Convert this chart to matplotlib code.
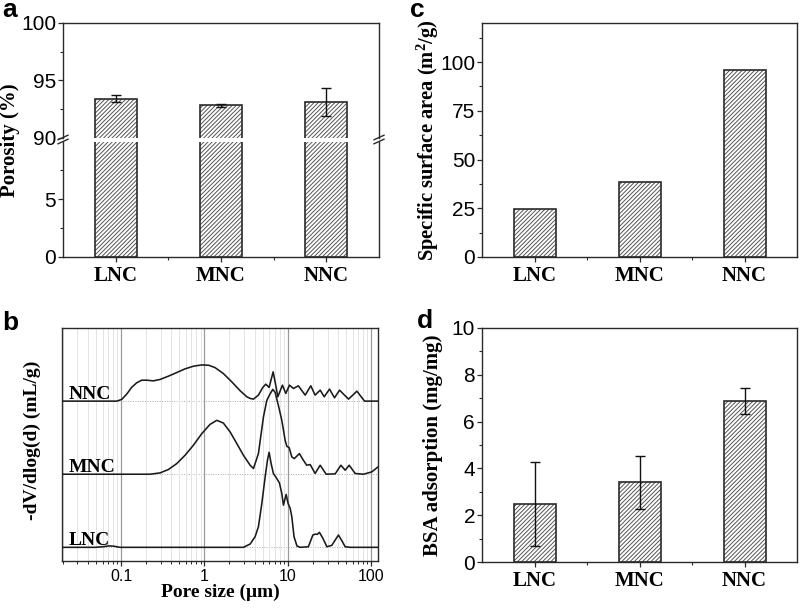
import matplotlib
matplotlib.use('Agg')
import matplotlib.pyplot as plt
from matplotlib.lines import Line2D
from matplotlib.ticker import FixedLocator, NullFormatter, FixedFormatter, LogLocator

# ---------------- data ----------------
categories = ['LNC', 'MNC', 'NNC']
porosity = [93.4, 92.8, 93.1]
porosity_err = [0.3, 0.1, 1.2]
surface_area = [24.6, 38.3, 96.0]
bsa = [2.47, 3.40, 6.87]
bsa_err = [1.80, 1.13, 0.55]

# pore size distribution (d in um, height in offset units)
nnc_d = [0.0196, 0.089, 0.102, 0.117, 0.134, 0.154, 0.177, 0.204, 0.244, 0.294, 0.370,
         0.467, 0.586, 0.738, 0.931, 1.12, 1.34, 1.69, 2.13, 2.69, 3.23, 3.54, 3.88,
         4.45, 5.02, 5.46, 5.98, 6.68, 7.12, 7.60, 8.64, 9.48, 10.5, 11.7, 13.4, 16.2,
         18.9, 21.3, 24.5, 27.4, 31.7, 36.4, 41.8, 53.6, 67.6, 83.4, 121]
nnc_h = [0, 0, 0.023, 0.095, 0.187, 0.25, 0.286, 0.286, 0.277, 0.296, 0.341,
         0.391, 0.441, 0.477, 0.495, 0.491, 0.459, 0.377, 0.264, 0.141, 0.059, 0.037, 0.027,
         0.082, 0.187, 0.232, 0.187, 0.40, 0.241, 0.059, 0.218, 0.105, 0.218, 0.173, 0.209, 0.082,
         0.209, 0.082, 0.15, 0.059, 0.164, 0.045, 0.15, 0.027, 0.136, 0, 0]

mnc_d = [0.0196, 0.223, 0.294, 0.370, 0.467, 0.586, 0.738, 0.931, 1.17, 1.41, 1.69,
         2.04, 2.45, 2.94, 3.54, 3.88, 4.45, 5.11, 5.61, 6.15, 6.62, 7.06, 7.73, 8.49,
         9.31, 9.75, 10.4, 11.2, 12.0, 13.8, 15.4, 16.9, 18.6, 21.3, 24.5, 28.9, 37.1,
         43.4, 48.9, 54.6, 64.4, 81.1, 102, 121]
mnc_h = [0, 0, 0.018, 0.064, 0.146, 0.259, 0.396, 0.555, 0.682, 0.737, 0.70,
         0.577, 0.419, 0.259, 0.123, 0.078, 0.282, 0.782, 1.01, 1.10, 1.16, 1.12, 0.94, 0.737,
         0.464, 0.382, 0.364, 0.236, 0.214, 0.282, 0.191, 0.123, 0.132, 0.01, 0.123, 0.0, 0.005,
         0.123, 0.055, 0.123, 0.01, 0, 0.032, 0.1]

lnc_d = [0.0196, 0.0488, 0.0608, 0.0718, 0.0824, 0.0973, 2.94, 3.54, 4.06, 4.45, 4.89,
         5.36, 5.71, 5.98, 6.32, 6.73, 7.39, 7.95, 8.49, 8.88, 9.57, 10.1, 10.7, 11.2,
         11.9, 12.9, 14.1, 17.7, 20.0, 21.5, 22.6, 24.0, 26.4, 29.5, 33.8, 37.1, 40.6,
         44.6, 48.9, 56.1, 121]
lnc_h = [0, 0, 0.008, 0.02, 0.015, 0, 0, 0.045, 0.145, 0.281, 0.60,
         0.963, 1.19, 1.30, 1.146, 1.01, 0.941, 0.881, 0.737, 0.577, 0.723, 0.60, 0.532, 0.417,
         0.145, 0.018, 0, 0.008, 0.168, 0.181, 0.177, 0.205, 0.123, 0.008, 0.027, 0.1, 0.168,
         0.09, 0.008, 0, 0]

curve_names = ['LNC', 'MNC', 'NNC']
curve_offsets = [0, 1, 2]

# ---------------- style ----------------
SANS = 'Liberation Sans'
SERIF = 'Liberation Serif'
EDGE = '#2a2a2a'
plt.rcParams['font.family'] = SANS
plt.rcParams['hatch.linewidth'] = 0.7
plt.rcParams['axes.edgecolor'] = EDGE
plt.rcParams['axes.linewidth'] = 1.0

W, H = 800, 609
fig = plt.figure(figsize=(W / 100, H / 100), dpi=100)


def rect(l, t, r, b):
    return [l / W, 1 - b / H, (r - l) / W, (b - t) / H]


def style_ticks(ax):
    ax.tick_params(axis='both', which='major', direction='out', length=3.5, width=0.9,
                   color=EDGE, labelsize=15)
    ax.tick_params(axis='both', which='minor', direction='out', length=2.0, width=0.8,
                   color=EDGE)
    ax.tick_params(axis='y', pad=1.5)
    ax.tick_params(axis='x', pad=3)
    for lab in ax.get_yticklabels():
        lab.set_fontfamily(SANS)


xpos = [1, 2, 3]
BW = 0.4


def draw_bars(ax, vals):
    ax.bar(xpos, vals, width=BW, color='white', edgecolor='#555555', hatch='////////',
           linewidth=0, zorder=2)
    ax.bar(xpos, vals, width=BW, fill=False, edgecolor=EDGE, linewidth=1.2, zorder=3)


def cat_axis(ax):
    ax.set_xlim(0.5, 3.5)
    ax.xaxis.set_major_locator(FixedLocator(xpos))
    ax.xaxis.set_major_formatter(FixedFormatter(categories))
    ax.xaxis.set_minor_locator(FixedLocator([1.5, 2.5]))
    for lab in ax.get_xticklabels():
        lab.set_fontfamily(SERIF)
        lab.set_fontweight('bold')
        lab.set_fontsize(15)


# ---------------- panel a (broken axis) ----------------
ax_top = fig.add_axes(rect(63, 23, 379, 137.5))
ax_bot = fig.add_axes(rect(63, 141.5, 379, 257))
for ax in (ax_top, ax_bot):
    draw_bars(ax, porosity)
    ax.set_xlim(0.5, 3.5)
ax_top.errorbar(xpos, porosity, yerr=porosity_err, fmt='none', ecolor='#111111',
                elinewidth=1.0, capsize=3.5, capthick=1.0, zorder=4)
ax_top.set_ylim(90, 100)
ax_bot.set_ylim(0, 10)
ax_top.spines['bottom'].set_visible(False)
ax_bot.spines['top'].set_visible(False)
ax_top.yaxis.set_major_locator(FixedLocator([90, 95, 100]))
ax_top.yaxis.set_minor_locator(FixedLocator([92.5, 97.5]))
ax_bot.yaxis.set_major_locator(FixedLocator([0, 5]))
ax_bot.yaxis.set_minor_locator(FixedLocator([2.5, 7.5]))
ax_top.tick_params(axis='x', which='both', bottom=False, labelbottom=False)
style_ticks(ax_top)
style_ticks(ax_bot)
cat_axis(ax_bot)

# break marks
for xs in (63, 379):
    for ys in (137.5, 141.5):
        fig.add_artist(Line2D([(xs - 5) / W, (xs + 5) / W],
                              [1 - (ys + 2.3) / H, 1 - (ys - 2.3) / H],
                              color=EDGE, lw=1.0))
fig.text(10 / W, 1 - 140 / H, 'Porosity (%)', rotation=90, ha='center', va='center',
         fontsize=15, fontweight='bold', family=SERIF)

# ---------------- panel c ----------------
ax_c = fig.add_axes(rect(482, 23, 797, 257))
draw_bars(ax_c, surface_area)
ax_c.set_ylim(0, 120)
ax_c.yaxis.set_major_locator(FixedLocator([0, 25, 50, 75, 100]))
ax_c.yaxis.set_minor_locator(FixedLocator([12.5, 37.5, 62.5, 87.5, 112.5]))
style_ticks(ax_c)
cat_axis(ax_c)
fig.text(428 / W, 1 - 140 / H, 'Specific surface area (m$\\mathregular{^2}$/g)', rotation=90,
         ha='center', va='center', fontsize=14.8, fontweight='bold', family=SERIF)

# ---------------- panel d ----------------
ax_d = fig.add_axes(rect(482, 328, 797, 562))
draw_bars(ax_d, bsa)
ax_d.errorbar(xpos, bsa, yerr=bsa_err, fmt='none', ecolor='#111111',
              elinewidth=1.0, capsize=3.5, capthick=1.0, zorder=4)
ax_d.set_ylim(0, 10)
ax_d.yaxis.set_major_locator(FixedLocator([0, 2, 4, 6, 8, 10]))
ax_d.yaxis.set_minor_locator(FixedLocator([1, 3, 5, 7, 9]))
style_ticks(ax_d)
cat_axis(ax_d)
fig.text(433 / W, 1 - 445 / H, 'BSA adsorption (mg/mg)', rotation=90,
         ha='center', va='center', fontsize=15, fontweight='bold', family=SERIF)

# ---------------- panel b ----------------
ax_b = fig.add_axes(rect(62, 328, 378, 561))
ax_b.set_xscale('log')
ax_b.set_xlim(0.0196, 121)
ax_b.set_ylim(-0.187, 3.0)
ax_b.xaxis.set_major_locator(FixedLocator([0.1, 1, 10, 100]))
ax_b.xaxis.set_major_formatter(FixedFormatter(['0.1', '1', '10', '100']))
ax_b.xaxis.set_minor_locator(LogLocator(base=10, subs=range(2, 10), numticks=20))
ax_b.xaxis.set_minor_formatter(NullFormatter())
ax_b.set_yticks([])
ax_b.grid(which='major', axis='x', color='#9a9a9a', lw=0.9, zorder=0)
ax_b.grid(which='minor', axis='x', color='#e4e4e4', lw=0.7, zorder=0)
ax_b.tick_params(axis='x', which='major', direction='out', length=3.5, width=0.9,
                 color=EDGE, labelsize=11.5, pad=2)
ax_b.tick_params(axis='x', which='minor', direction='out', length=2.0, width=0.7, color=EDGE)
for off in curve_offsets:
    ax_b.axhline(off, color='#aaaaaa', ls=(0, (1, 1.5)), lw=0.7, zorder=1)
curves = {'LNC': (lnc_d, lnc_h), 'MNC': (mnc_d, mnc_h), 'NNC': (nnc_d, nnc_h)}
for name, off in zip(curve_names, curve_offsets):
    d, h = curves[name]
    ax_b.plot(d, [v + off for v in h], color='#1a1a1a', lw=1.15, zorder=3,
              solid_joinstyle='round')
    ax_b.text(0.0238, off + 0.03, name, ha='left', va='baseline', fontsize=14,
              fontweight='bold', family=SERIF, zorder=4)
ax_b.set_xlabel('Pore size (\u03bcm)', fontsize=14, fontweight='bold', family=SERIF,
                labelpad=0)
fig.text(32 / W, 1 - 440 / H, '-dV/dlog(d) (mL/g)', rotation=90, ha='center', va='center',
         fontsize=14, fontweight='bold', family=SERIF)

# ---------------- panel letters ----------------
for letter, (lx, ly) in zip('abcd', [(2, 17), (2, 330), (410, 17), (417, 328)]):
    fig.text(lx / W, 1 - ly / H, letter, ha='left', va='baseline', fontsize=19,
             fontweight='bold', family=SANS)

fig.savefig('out.png', dpi=100)
